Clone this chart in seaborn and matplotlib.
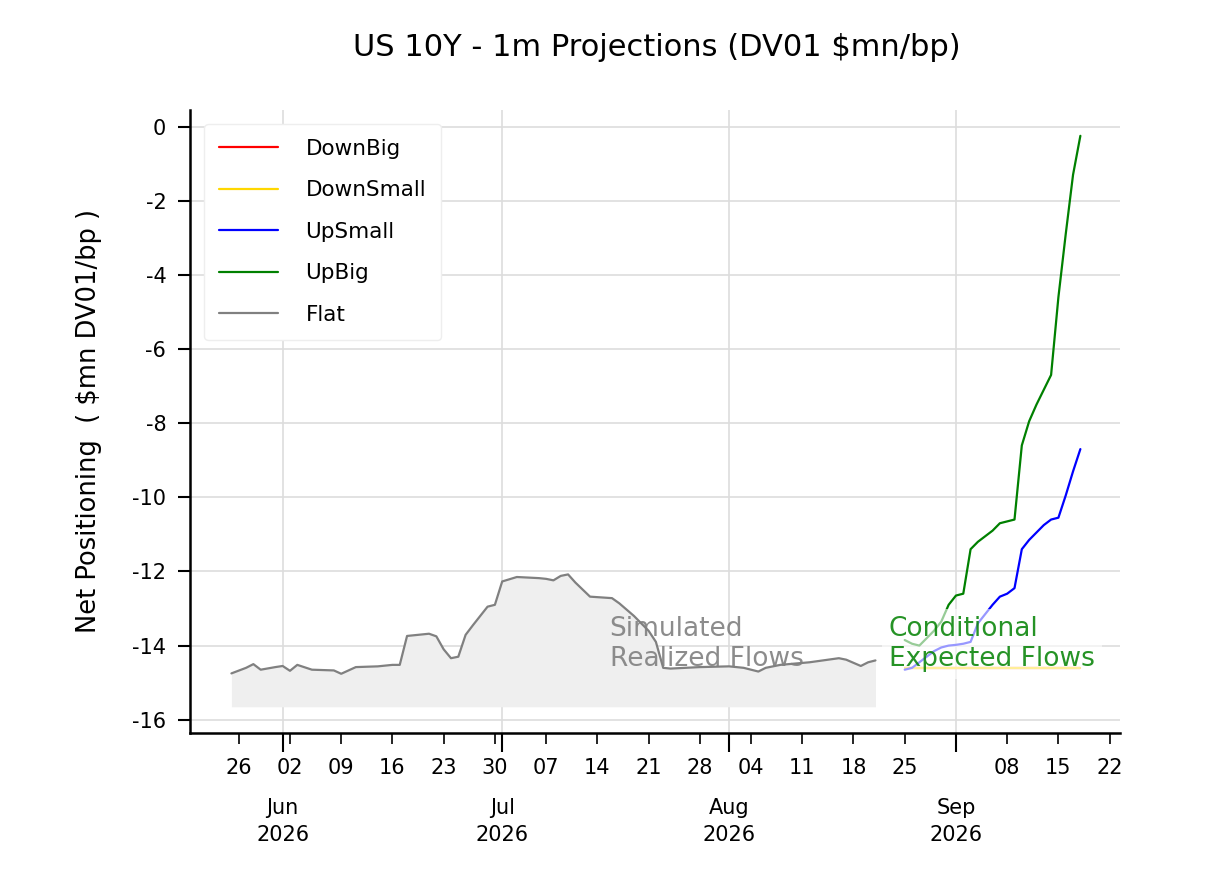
import matplotlib
matplotlib.use('Agg')
import matplotlib.pyplot as plt
import matplotlib.dates as mdates
import pandas as pd
import seaborn as sns

# Simulated realized flows (labelled Flat in the legend)
realized_dates = ['2026-05-25', '2026-05-27', '2026-05-28', '2026-05-29', '2026-05-31',
                  '2026-06-01', '2026-06-02', '2026-06-03', '2026-06-05', '2026-06-08',
                  '2026-06-09', '2026-06-11', '2026-06-14', '2026-06-16', '2026-06-17',
                  '2026-06-18', '2026-06-21', '2026-06-22', '2026-06-23', '2026-06-24',
                  '2026-06-25', '2026-06-26', '2026-06-27', '2026-06-28', '2026-06-29',
                  '2026-06-30', '2026-07-01', '2026-07-03', '2026-07-06', '2026-07-07',
                  '2026-07-08', '2026-07-09', '2026-07-10', '2026-07-11', '2026-07-13',
                  '2026-07-16', '2026-07-17', '2026-07-19', '2026-07-21', '2026-07-22',
                  '2026-07-23', '2026-07-24', '2026-07-28', '2026-08-01', '2026-08-03',
                  '2026-08-05', '2026-08-06', '2026-08-08', '2026-08-12', '2026-08-16',
                  '2026-08-17', '2026-08-19', '2026-08-20', '2026-08-21']
realized_vals = [-14.75, -14.60, -14.50, -14.65, -14.58,
                 -14.55, -14.68, -14.52, -14.65, -14.67,
                 -14.76, -14.58, -14.56, -14.52, -14.52,
                 -13.74, -13.68, -13.75, -14.10, -14.34,
                 -14.30, -13.71, -13.45, -13.20, -12.95,
                 -12.90, -12.27, -12.15, -12.18, -12.20,
                 -12.24, -12.12, -12.08, -12.30, -12.68,
                 -12.72, -12.86, -13.20, -13.60, -13.90,
                 -14.60, -14.62, -14.58, -14.56, -14.60,
                 -14.70, -14.60, -14.52, -14.45, -14.34,
                 -14.38, -14.55, -14.45, -14.40]
fill_floor = -15.65

# 1m projections per scenario
proj_dates = pd.date_range('2026-08-25', '2026-09-18', freq='D')
up_big = [-13.85, -13.95, -14.00, -13.80, -13.60, -13.35, -12.90, -12.65, -12.60,
          -11.40, -11.20, -11.05, -10.90, -10.70, -10.65, -10.60, -8.60, -7.95,
          -7.50, -7.10, -6.70, -4.60, -2.90, -1.30, -0.25]
up_small = [-14.65, -14.60, -14.45, -14.30, -14.15, -14.05, -14.00, -13.98, -13.95,
            -13.90, -13.40, -13.15, -12.90, -12.68, -12.60, -12.45, -11.40, -11.15,
            -10.95, -10.75, -10.60, -10.55, -9.95, -9.30, -8.70]
down_small = [-14.60, -14.60, -14.60, -14.60, -14.60, -14.60, -14.60, -14.60, -14.60,
              -14.60, -14.60, -14.60, -14.60, -14.60, -14.60, -14.60, -14.60, -14.60,
              -14.60, -14.60, -14.60, -14.60, -14.60, -14.60, -14.60]
down_big = [-14.60, -14.60, -14.60, -14.60, -14.60, -14.60, -14.60, -14.60, -14.60,
            -14.60, -14.60, -14.60, -14.60, -14.60, -14.60, -14.60, -14.60, -14.60,
            -14.60, -14.60, -14.60, -14.60, -14.60, -14.60, -14.60]

scenarios = ['DownBig', 'DownSmall', 'UpSmall', 'UpBig', 'Flat']
palette = {'DownBig': 'red', 'DownSmall': 'gold', 'UpSmall': 'blue',
           'UpBig': 'green', 'Flat': 'gray'}

frames = [pd.DataFrame({'date': pd.to_datetime(realized_dates),
                        'value': realized_vals, 'scenario': 'Flat'})]
for name, vals in [('DownBig', down_big), ('DownSmall', down_small),
                   ('UpSmall', up_small), ('UpBig', up_big)]:
    frames.append(pd.DataFrame({'date': proj_dates, 'value': vals, 'scenario': name}))
df = pd.concat(frames, ignore_index=True)

sns.set_style('white')
plt.rcParams['font.family'] = ['DejaVu Sans']
plt.rcParams['axes.unicode_minus'] = False
for key in ['text.color', 'axes.labelcolor', 'xtick.color', 'ytick.color']:
    plt.rcParams[key] = 'black'

fig = plt.figure(figsize=(12.06, 8.86), dpi=100)
ax = fig.add_axes([0.1575, 0.173, 0.7712, 0.703])

ax.fill_between(pd.to_datetime(realized_dates), realized_vals, fill_floor,
                color='#efefef', zorder=1, linewidth=0)
sns.lineplot(data=df, x='date', y='value', hue='scenario', hue_order=scenarios,
             palette=palette, estimator=None, linewidth=1.6, ax=ax, zorder=3)

ax.text(pd.Timestamp('2026-07-15 16:00'), -13.95, 'Simulated\nRealized Flows',
        color='gray', alpha=0.9, fontsize=19, va='center', ha='left', zorder=4,
        linespacing=1.2)
ax.text(pd.Timestamp('2026-08-22 20:00'), -13.95, 'Conditional\nExpected Flows',
        color='green', alpha=0.85, fontsize=19, va='center', ha='left', zorder=5,
        linespacing=1.2,
        bbox=dict(facecolor='white', alpha=0.6, edgecolor='none', pad=5))

ax.set_xlim(pd.Timestamp('2026-05-19 08:00'), pd.Timestamp('2026-09-23 10:00'))
ax.set_ylim(-16.35, 0.45)
ax.set_yticks([0, -2, -4, -6, -8, -10, -12, -14, -16])

ax.xaxis.set_major_locator(mdates.MonthLocator())
ax.xaxis.set_major_formatter(mdates.DateFormatter('%b\n%Y'))
ax.xaxis.set_minor_locator(mdates.WeekdayLocator(byweekday=mdates.TU))
ax.xaxis.set_minor_formatter(mdates.DateFormatter('%d'))

ax.grid(True, which='major', color='#dddddd', linewidth=1.2)
ax.set_axisbelow(True)
for side in ['top', 'right']:
    ax.spines[side].set_visible(False)
for side in ['left', 'bottom']:
    ax.spines[side].set_color('black')
    ax.spines[side].set_linewidth(1.8)

ax.tick_params(axis='x', which='major', length=14, width=1.5, labelsize=15, pad=33)
ax.tick_params(axis='x', which='minor', length=8, width=1.2, labelsize=15, pad=10)
ax.tick_params(axis='y', which='major', length=9, width=1.5, labelsize=15, left=True, pad=8)
ax.tick_params(axis='x', bottom=True, which='both')

ax.set_xlabel('')
ax.set_ylabel('Net Positioning  ( $mn DV01/bp )', fontsize=18.5, labelpad=22)
fig.suptitle('US 10Y - 1m Projections (DV01 $mn/bp)', fontsize=22, x=0.545, y=0.963)

ax.legend(loc='upper left', bbox_to_anchor=(0.004, 0.995), fontsize=15.5,
          handlelength=2.7, labelspacing=1.0, frameon=True, framealpha=1,
          edgecolor='#eeeeee', borderpad=0.7, handletextpad=1.3)

fig.canvas.draw()
for lab in ax.get_xticklabels(which='major'):
    lab.set_linespacing(1.45)

fig.savefig('out.png', dpi=100)
